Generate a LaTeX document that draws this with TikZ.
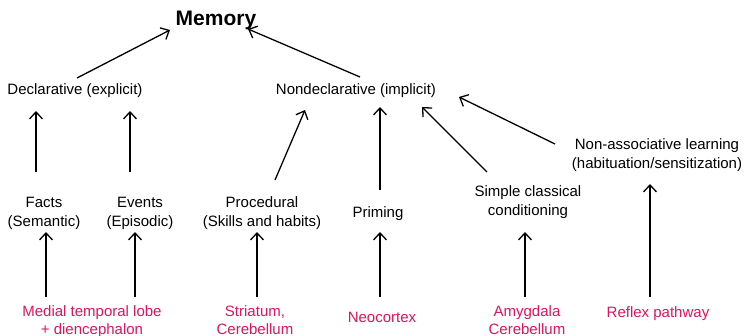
\documentclass[tikz,border=0pt]{standalone}
\usepackage{fontspec}
\setmainfont{Liberation Sans}
\usetikzlibrary{arrows.meta}
\definecolor{brainred}{RGB}{218,22,92}
\tikzset{
  lbl/.style={anchor=base, inner sep=0pt, align=center, font=\fontsize{15}{19}\selectfont},
  reg/.style={lbl, text=brainred, font=\fontsize{15}{18}\selectfont},
  arr/.style={-{Straight Barb[length=7pt,width=13pt,line width=1.3pt]}, line width=1.3pt},
}
\begin{document}
\begin{tikzpicture}[x=1pt,y=-1pt]
\useasboundingbox (0,0) rectangle (745,335);
\node[anchor=base, inner sep=0pt, font=\fontsize{21}{25}\selectfont\bfseries] (memory) at (216,25) {Memory};
\node[lbl] (decl) at (75,94) {Declarative (explicit)};
\node[lbl] (nondecl) at (356,94) {Nondeclarative (implicit)};
\node[lbl] (facts) at (44,226) {Facts\\(Semantic)};
\node[lbl] (events) at (140,226) {Events\\(Episodic)};
\node[lbl] (proc) at (262,226) {Procedural\\(Skills and habits)};
\node[lbl] (priming) at (378,217) {Priming};
\node[lbl] (simple) at (528,215) {Simple classical\\conditioning};
\node[lbl] (nonassoc) at (657,168) {Non-associative learning\\(habituation/sensitization)};
\node[reg] (mtl) at (92,334) {Medial temporal lobe\\+ diencephalon};
\node[reg] (stri) at (255,334) {Striatum,\\Cerebellum};
\node[reg] (neo) at (382,322) {Neocortex};
\node[reg] (amyg) at (527,334) {Amygdala\\Cerebellum};
\node[reg] (reflex) at (658,317) {Reflex pathway};

\draw[arr] ([shift={(2,-16)}]decl.base) -- ([shift={(-46,5)}]memory.base);
\draw[arr] ([shift={(4,-17)}]nondecl.base) -- ([shift={(32,4)}]memory.base);
\draw[arr] ([shift={(-8,-54)}]facts.base) -- ([shift={(-39,17)}]decl.base);
\draw[arr] ([shift={(-10,-54)}]events.base) -- ([shift={(55,17)}]decl.base);
\draw[arr] ([shift={(13,-46)}]proc.base) -- ([shift={(-51,16)}]nondecl.base);
\draw[arr] ([shift={(2,-27)}]priming.base) -- ([shift={(24,13)}]nondecl.base);
\draw[arr] ([shift={(-41,-43)}]simple.base) -- ([shift={(66,13)}]nondecl.base);
\draw[arr] ([shift={(-102,-24)}]nonassoc.base) -- ([shift={(103,3)}]nondecl.base);
\draw[arr] ([shift={(-46,-37)}]mtl.base) -- ([shift={(2,6)}]facts.base);
\draw[arr] ([shift={(43,-37)}]mtl.base) -- ([shift={(-5,6)}]events.base);
\draw[arr] ([shift={(2,-37)}]stri.base) -- ([shift={(-5,6)}]proc.base);
\draw[arr] ([shift={(-2,-25)}]neo.base) -- ([shift={(2,15)}]priming.base);
\draw[arr] ([shift={(-2,-37)}]amyg.base) -- ([shift={(-3,17)}]simple.base);
\draw[arr] ([shift={(-8,-20)}]reflex.base) -- ([shift={(-7,16)}]nonassoc.base);
\end{tikzpicture}
\end{document}
